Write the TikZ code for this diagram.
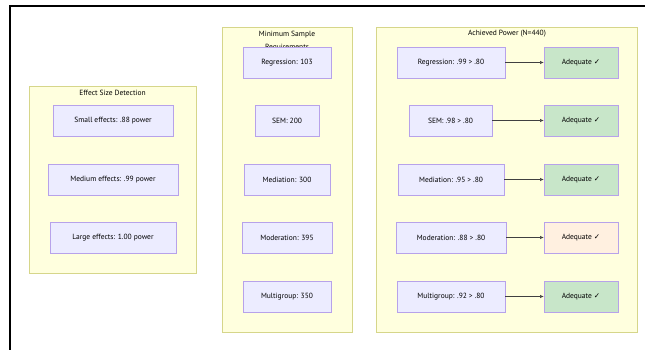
\documentclass[tikz,border=0pt]{standalone}
\usepackage{fontspec}
\setmainfont{PT Sans}
\newfontfamily\checkfont{DejaVu Sans}
\usetikzlibrary{positioning,arrows.meta}
\tikzset{>={Latex[width=1.2mm,length=1.3mm]}}
\definecolor{clfill}{HTML}{FFFFDE}
\definecolor{cldraw}{HTML}{D6D68A}
\definecolor{bxfill}{HTML}{ECECFF}
\definecolor{bxdraw}{HTML}{B7A2EA}
\definecolor{okfill}{HTML}{C8E6C9}
\definecolor{warnfill}{HTML}{FFF0E0}
\tikzset{cluster/.style = {draw=cldraw, fill=clfill, rectangle, line width=0.6pt},
        box/.style = {draw=bxdraw, fill=bxfill, rectangle, line width=0.6pt,
                  minimum height=31pt, inner xsep=0pt, font=\fontsize{7.5}{9}\selectfont},
        ttl/.style = {font=\fontsize{7.5}{13}\selectfont, align=center, inner sep=0pt}
    }
\newcommand{\ok}{Adequate {\checkfont\char"2713}}

\begin{document}
\begin{tikzpicture}[x=1pt, y=-1pt]
    \tikzstyle{okbox} = [box, fill=okfill, minimum width=74pt]
    \tikzstyle{warnbox} = [box, fill=warnfill, minimum width=74pt]
    \useasboundingbox (0,0) rectangle (645,350);
    \fill[white] (0,0) rectangle (645,350);
    \draw[line width=1.4pt] (10,350) -- (10,6) -- (645,6);

    % effect size
    \node[cluster, minimum width=167pt, minimum height=187pt] (effect) at (112.5,179.5) {};
    \node[ttl] (effectT) at (112.5,93) {Effect Size Detection};
    \node[box, minimum width=120pt] (small) at (113,120.5) {Small effects: .88 power};
    \node[box, minimum width=130pt] (medium) at (113,179.5) {Medium effects: .99 power};
    \node[box, minimum width=126pt] (large) at (113,237.5) {Large effects: 1.00 power};

    % minimum sample
    \node[cluster, minimum width=130pt, minimum height=305pt] (minimum) at (287,179.5) {};
    \node[ttl] (minimumT) at (287,41) {Minimum Sample\\Requirements};
    \node[box, minimum width=88pt] (mreg) at (287,62.5) {Regression: 103};
    \node[box, minimum width=64pt] (msem) at (287,120.5) {SEM: 200};
    \node[box, minimum width=86pt] (mmed) at (287,179.5) {Mediation: 300};
    \node[box, minimum width=90pt] (mmod) at (287,237.5) {Moderation: 395};
    \node[box, minimum width=88pt] (mmul) at (287,296.5) {Multigroup: 350};

    % achieved power
    \node[cluster, minimum width=261pt, minimum height=305pt] (achieved) at (507,179.5) {};
    \node[ttl] (achievedT) at (507,34) {Achieved Power (N=440)};
    \node[box, minimum width=108pt] (preg) at (451,62.5) {Regression: .99 > .80};
    \node[box, minimum width=83pt] (psem) at (450.5,120.5) {SEM: .98 > .80};
    \node[box, minimum width=106pt] (pmed) at (451,179.5) {Mediation: .95 > .80};
    \node[box, minimum width=110pt] (pmod) at (451,237.5) {Moderation: .88 > .80};
    \node[box, minimum width=108pt] (pmul) at (451,296.5) {Multigroup: .92 > .80};

    \node[okbox] (areg) at (581,62.5) {\ok};
    \node[okbox] (asem) at (581,120.5) {\ok};
    \node[okbox] (amed) at (581,179.5) {\ok};
    \node[warnbox] (amod) at (581,237.5) {\ok};
    \node[okbox] (amul) at (581,296.5) {\ok};

    \draw[->, line width=0.5pt, black!75] (preg) -- (areg);
    \draw[->, line width=0.5pt, black!75] (psem) -- (asem);
    \draw[->, line width=0.5pt, black!75] (pmed) -- (amed);
    \draw[->, line width=0.5pt, black!75] (pmod) -- (amod);
    \draw[->, line width=0.5pt, black!75] (pmul) -- (amul);
  \end{tikzpicture}
\end{document}
